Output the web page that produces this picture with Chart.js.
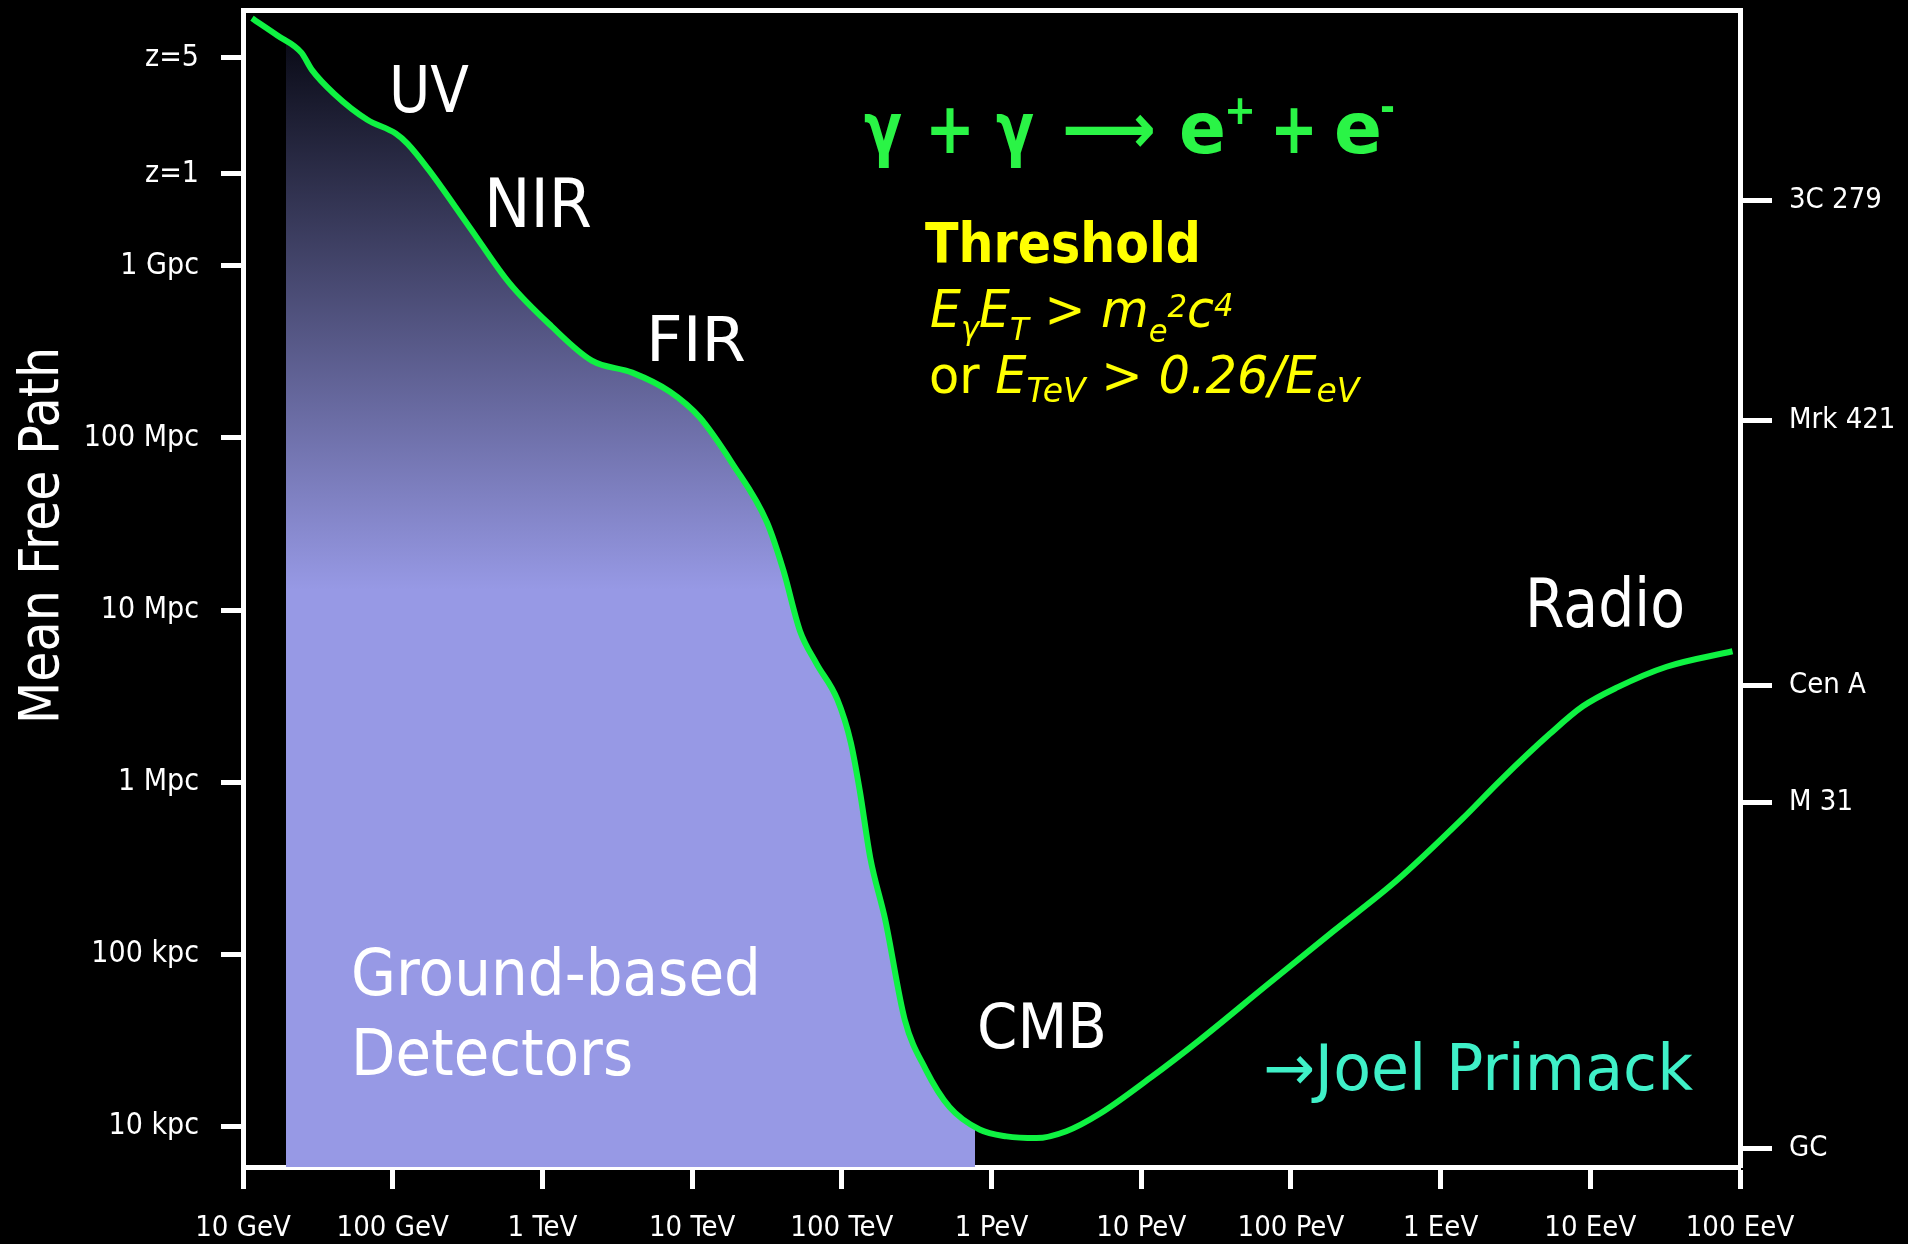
<!DOCTYPE html>
<html>
<head>
<meta charset="utf-8">
<script src="https://cdn.jsdelivr.net/npm/chart.js@4.4.0/dist/chart.umd.min.js"></script>
<style>
  html, body { margin: 0; padding: 0; background: #000; }
  canvas { display: block; }
</style>
</head>
<body>
<canvas id="mfp" width="1908" height="1244"></canvas>
<script>
// curve: log10(E / eV) and log10(mean free path / pc)
const logEnergy = [10.06, 10.23, 10.39, 10.46, 10.61, 10.83, 11.02, 11.10, 11.24, 11.51, 11.78, 12.06, 12.33, 12.60,
    12.85, 13.05, 13.27, 13.50, 13.61, 13.72, 13.83, 13.97, 14.06, 14.12, 14.19, 14.29, 14.42, 14.56, 14.72, 14.92,
    15.10, 15.30, 15.50, 15.72, 16.06, 16.39, 16.84, 17.28, 17.71, 18.15, 18.40, 18.73, 18.95, 19.18, 19.51, 19.95];
const logPath = [10.44, 10.34, 10.24, 10.14, 10.00, 9.85, 9.77, 9.71, 9.56, 9.23, 8.90, 8.65, 8.45, 8.38,
    8.27, 8.12, 7.85, 7.51, 7.23, 6.88, 6.69, 6.48, 6.23, 5.95, 5.56, 5.20, 4.62, 4.33, 4.11, 3.98,
    3.94, 3.93, 3.97, 4.07, 4.28, 4.50, 4.82, 5.13, 5.43, 5.79, 6.01, 6.28, 6.44, 6.55, 6.67, 6.76];

const energyTicks = [10, 11, 12, 13, 14, 15, 16, 17, 18, 19, 20];
const energyLabels = ['10 GeV', '100 GeV', '1 TeV', '10 TeV', '100 TeV', '1 PeV', '10 PeV', '100 PeV', '1 EeV', '10 EeV', '100 EeV'];
const distTicks = [4, 5, 6, 7, 8, 9, 9.535, 10.21];
const distLabels = ['10 kpc', '100 kpc', '1 Mpc', '10 Mpc', '100 Mpc', '1 Gpc', 'z=1', 'z=5'];
const sourceTicks = [3.87, 5.88, 6.56, 8.10, 9.38];
const sourceLabels = ['GC', 'M 31', 'Cen A', 'Mrk 421', '3C 279'];
const detectorRange = [10.287, 14.89]; // ground-based detectors band

const points = logEnergy.map((e, i) => ({ x: 10 ** e, y: 10 ** logPath[i] }));

const tickFont = { family: "'DejaVu Sans Condensed', 'DejaVu Sans', sans-serif", size: 29 };

// text with width squeezed to match the slide's narrower face
function label(ctx, s, x, y, font, width, color) {
    ctx.save();
    ctx.font = font;
    const w = ctx.measureText(s).width;
    ctx.translate(x, y);
    if (width) ctx.scale(width / w, 1);
    ctx.fillStyle = color;
    ctx.textBaseline = 'alphabetic';
    ctx.fillText(s, 0, 0);
    ctx.restore();
}

function runs(ctx, parts, x, y, sx, color) {
    ctx.save();
    ctx.translate(x, y);
    ctx.scale(sx, 1);
    ctx.fillStyle = color;
    ctx.textBaseline = 'alphabetic';
    let cx = 0;
    parts.forEach(([s, font, dy]) => {
        ctx.font = font;
        ctx.fillText(s, cx, dy || 0);
        cx += ctx.measureText(s).width;
    });
    ctx.restore();
}

const F = '"DejaVu Sans", sans-serif';

// clip the filled copy of the curve to the detector band
const detectorClip = {
    id: 'detectorClip',
    beforeDatasetsDraw(chart) {
        const xs = chart.scales.x, area = chart.chartArea, ctx = chart.ctx;
        const x0 = xs.getPixelForValue(10 ** detectorRange[0]);
        const x1 = xs.getPixelForValue(10 ** detectorRange[1]);
        ctx.save();
        ctx.beginPath();
        ctx.rect(x0, area.top, x1 - x0, area.bottom - area.top);
        ctx.clip();
    },
    afterDatasetDraw(chart, args) {
        if (args.index === 1) chart.ctx.restore();
    }
};

const texts = {
    id: 'texts',
    afterDraw(chart) {
        const ctx = chart.ctx;
        const white = '#ffffff', yellow = '#ffff00', green = '#2af446';

        label(ctx, 'UV', 389, 112, '64px ' + F, 80, white);
        label(ctx, 'NIR', 484, 227, '67px ' + F, 108, white);
        label(ctx, 'FIR', 646, 361, '63px ' + F, 100, white);
        label(ctx, 'CMB', 977, 1048, '63px ' + F, 130, white);
        label(ctx, 'Ground-based', 351, 995, '64px ' + F, 410, white);
        label(ctx, 'Detectors', 351, 1075, '64px ' + F, 282, white);
        label(ctx, 'Radio', 1525, 627, '67px ' + F, 160, white);
        label(ctx, '\u2192Joel Primack', 1263, 1090, '64px ' + F, 430, '#3ff0c8');

        // axis title
        ctx.save();
        ctx.translate(58, 724);
        ctx.rotate(-Math.PI / 2);
        label(ctx, 'Mean Free Path', 0, 0, '56px ' + F, 377, white);
        ctx.restore();

        // reaction
        const B = 'bold 71px ' + F;
        label(ctx, '\u03b3', 864, 153, B, 38, green);
        label(ctx, '+', 925, 153, B, 50, green);
        label(ctx, '\u03b3', 996, 153, B, 38, green);
        label(ctx, '\u27f6', 1062, 153, B, 94, green);
        label(ctx, 'e', 1179, 153, B, 47, green);
        label(ctx, '+', 1224, 124, 'bold 40px ' + F, 32, green);
        label(ctx, '+', 1270, 153, B, 48, green);
        label(ctx, 'e', 1334, 153, B, 48, green);
        label(ctx, '-', 1380, 121, 'bold 40px ' + F, 15, green);

        // threshold
        label(ctx, 'Threshold', 925, 262, 'bold 56px ' + F, 276, yellow);
        const I = 'italic 51px ' + F, s = 'italic 32px ' + F, s2 = 'italic 34px ' + F;
        runs(ctx, [['E', I], ['\u03b3', s, 12], ['E', I], ['T', s, 13], [' > ', '51px ' + F],
            ['m', I], ['e', s, 15], ['2', s, -10], ['c', I], ['4', s, -11]], 930, 327, 0.96, yellow);
        runs(ctx, [['or ', '51px ' + F], ['E', I], ['TeV', s2, 9], [' > ', '51px ' + F],
            ['0.26/E', I], ['eV', s2, 9]], 929, 393, 0.97, yellow);
    }
};

// vertical axes: no extra room for half labels at the ends
function noPad(s) {
    s.paddingTop = 0;
    s.paddingBottom = 0;
}

const ctx = document.getElementById('mfp').getContext('2d');
const chart = new Chart(ctx, {
    type: 'line',
    data: {
        datasets: [{
            label: 'Mean free path',
            data: points,
            xAxisID: 'x',
            yAxisID: 'y',
            borderColor: '#0ff242',
            borderWidth: 6,
            pointRadius: 0,
            fill: false,
            cubicInterpolationMode: 'monotone'
        }, {
            label: 'Ground-based Detectors',
            data: points,
            xAxisID: 'x',
            yAxisID: 'y',
            borderWidth: 0,
            pointRadius: 0,
            fill: 'start',
            cubicInterpolationMode: 'monotone',
            backgroundColor: (c) => {
                const area = c.chart.chartArea;
                if (!area) return 'rgba(0,0,0,0)';
                const g = c.chart.ctx.createLinearGradient(0, area.top + 40, 0, area.top + 580);
                g.addColorStop(0, '#0c0d1a');
                g.addColorStop(1, '#9799e5');
                return g;
            }
        }]
    },
    options: {
        responsive: false,
        animation: false,
        layout: { padding: 0 },
        plugins: {
            legend: { display: false },
            tooltip: { enabled: false }
        },
        scales: {
            x: {
                type: 'logarithmic',
                position: 'bottom',
                min: 1e10,
                max: 1e20,
                afterBuildTicks: (s) => { s.ticks = energyTicks.map(v => ({ value: 10 ** v })); },
                afterFit: (s) => { s.height = 77; s.paddingLeft = 0; s.paddingRight = 0; },
                ticks: {
                    autoSkip: false, maxRotation: 0, color: '#fff', font: tickFont, padding: 22,
                    callback: (v, i) => energyLabels[i]
                },
                grid: { drawOnChartArea: false, tickLength: 22, tickWidth: 5, tickColor: '#fff' },
                border: { color: '#fff', width: 5 }
            },
            xTop: {
                type: 'logarithmic',
                position: 'top',
                min: 1e10,
                max: 1e20,
                afterFit: (s) => { s.height = 10; s.paddingLeft = 0; s.paddingRight = 0; },
                ticks: { display: false },
                grid: { display: false },
                border: { color: '#fff', width: 5 }
            },
            y: {
                type: 'logarithmic',
                position: 'left',
                min: 10 ** 3.762,
                max: 10 ** 10.488,
                afterBuildTicks: (s) => { s.ticks = distTicks.map(v => ({ value: 10 ** v })); },
                afterFit: (s) => { s.width = 243; noPad(s); },
                ticks: {
                    autoSkip: false, color: '#fff', font: { ...tickFont, size: 30 }, padding: 22,
                    callback: (v, i) => distLabels[i]
                },
                grid: { drawOnChartArea: false, tickLength: 22, tickWidth: 5, tickColor: '#fff' },
                border: { color: '#fff', width: 5 }
            },
            yRight: {
                type: 'logarithmic',
                position: 'right',
                min: 10 ** 3.762,
                max: 10 ** 10.488,
                afterBuildTicks: (s) => { s.ticks = sourceTicks.map(v => ({ value: 10 ** v })); },
                afterFit: (s) => { s.width = 168; noPad(s); },
                ticks: {
                    autoSkip: false, color: '#fff', font: tickFont, padding: 17,
                    callback: (v, i) => sourceLabels[i]
                },
                grid: { drawOnChartArea: false, tickLength: 32, tickWidth: 5, tickColor: '#fff' },
                border: { color: '#fff', width: 5 }
            }
        }
    },
    plugins: [detectorClip, texts]
});
</script>
</body>
</html>
